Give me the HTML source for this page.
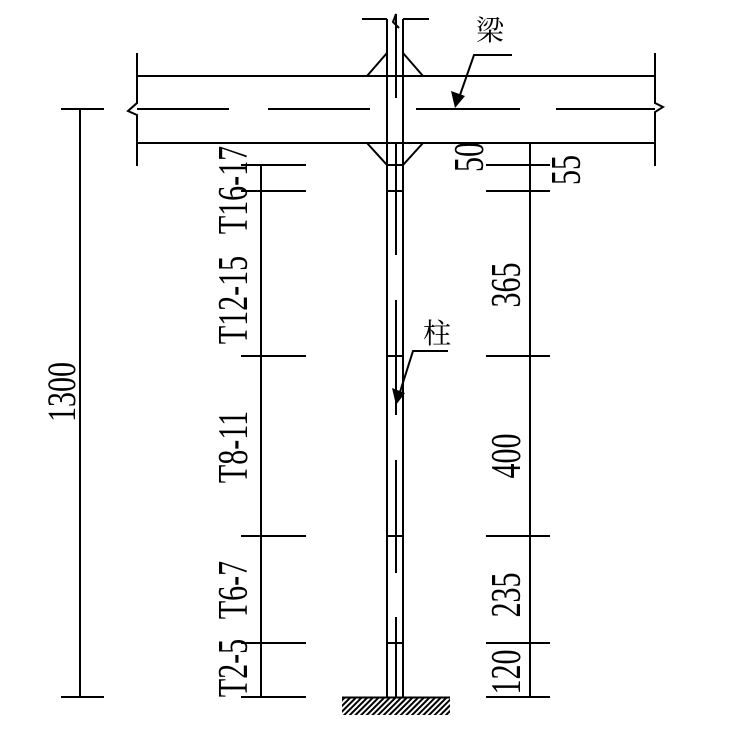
<!DOCTYPE html>
<html><head><meta charset="utf-8"><style>
html,body{margin:0;padding:0;background:#fff}
text{font-family:"Liberation Serif","Times New Roman","Noto Serif CJK SC",serif;fill:#000}
</style></head><body>
<svg width="741" height="750" viewBox="0 0 741 750" xmlns="http://www.w3.org/2000/svg">
<defs>
<pattern id="h" width="4" height="4" patternUnits="userSpaceOnUse" patternTransform="rotate(45)">
<line x1="1" y1="0" x2="1" y2="4" stroke="#000" stroke-width="2"/>
</pattern>
</defs>
<g stroke="#000" stroke-width="2" fill="none">
<line x1="137" y1="76" x2="655" y2="76"/>
<line x1="137" y1="143" x2="655" y2="143"/>
<polyline points="137,53 137,103 128,111 137,115 137,166"/>
<polyline points="655,53 655,103 663,107 655,112 655,166"/>
<line x1="137" y1="109" x2="229" y2="109"/>
<line x1="268" y1="109" x2="370" y2="109"/>
<line x1="416" y1="109" x2="520" y2="109"/>
<line x1="556" y1="109" x2="655" y2="109"/>
<polyline points="367,76 387,53"/><polyline points="403,53 423,76"/>
<polyline points="367,143 387,165"/><polyline points="403,165 423,143"/>
<line x1="387" y1="19" x2="387" y2="697"/>
<line x1="403" y1="19" x2="403" y2="697"/>
<line x1="362" y1="19" x2="387" y2="19"/>
<line x1="403" y1="19" x2="429" y2="19"/>
<polyline points="396,98 396,14 393,22 399,28"/>
<line x1="396" y1="143" x2="396" y2="255"/>
<line x1="396" y1="300" x2="396" y2="415"/>
<line x1="396" y1="460" x2="396" y2="573"/>
<line x1="396" y1="617" x2="396" y2="697"/>
<line x1="387" y1="165" x2="403" y2="165"/>
<line x1="387" y1="191" x2="403" y2="191"/>
<line x1="387" y1="356" x2="403" y2="356"/>
<line x1="387" y1="536" x2="403" y2="536"/>
<line x1="387" y1="643" x2="403" y2="643"/>
<line x1="80" y1="109" x2="80" y2="697"/>
<line x1="61" y1="109" x2="104" y2="109"/>
<line x1="61" y1="697" x2="104" y2="697"/>
<line x1="261" y1="165" x2="261" y2="697"/>
<line x1="241" y1="165" x2="306" y2="165"/>
<line x1="241" y1="191" x2="306" y2="191"/>
<line x1="241" y1="356" x2="306" y2="356"/>
<line x1="241" y1="536" x2="306" y2="536"/>
<line x1="241" y1="643" x2="306" y2="643"/>
<line x1="241" y1="697" x2="306" y2="697"/>
<line x1="530" y1="143" x2="530" y2="697"/>
<line x1="486" y1="165" x2="550" y2="165"/>
<line x1="486" y1="191" x2="550" y2="191"/>
<line x1="486" y1="356" x2="550" y2="356"/>
<line x1="486" y1="536" x2="550" y2="536"/>
<line x1="486" y1="643" x2="550" y2="643"/>
<line x1="486" y1="697" x2="550" y2="697"/>
<polyline points="512,55 474,55 460,95"/>
<polyline points="448,351 413,351 400,392"/>
</g>
<polygon points="455,108 451,91 465,96" fill="#000"/>
<polygon points="396,405 392,388 405,393" fill="#000"/>
<rect x="342" y="697" width="108" height="18" fill="url(#h)"/>
<line x1="342" y1="697.5" x2="450" y2="697.5" stroke="#000" stroke-width="2"/>
<g font-size="30">
<text transform="translate(75,392) rotate(-90) scale(1,1.35)" text-anchor="middle">1300</text>
<text transform="translate(247,190) rotate(-90) scale(1,1.4)" text-anchor="middle">T16-17</text>
<text transform="translate(247,300) rotate(-90) scale(1,1.4)" text-anchor="middle">T12-15</text>
<text transform="translate(247,447) rotate(-90) scale(1,1.4)" text-anchor="middle">T8-11</text>
<text transform="translate(247,590) rotate(-90) scale(1,1.4)" text-anchor="middle">T6-7</text>
<text transform="translate(247,668) rotate(-90) scale(1,1.4)" text-anchor="middle">T2-5</text>
<text transform="translate(483,157) rotate(-90) scale(1,1.4)" text-anchor="middle">50</text>
<text transform="translate(580,170) rotate(-90) scale(1,1.4)" text-anchor="middle">55</text>
<text transform="translate(520,285) rotate(-90) scale(1,1.4)" text-anchor="middle">365</text>
<text transform="translate(520,456) rotate(-90) scale(1,1.4)" text-anchor="middle">400</text>
<text transform="translate(520,595) rotate(-90) scale(1,1.4)" text-anchor="middle">235</text>
<text transform="translate(520,672) rotate(-90) scale(1,1.4)" text-anchor="middle">120</text>
</g>
<text x="490" y="40" font-size="28" text-anchor="middle">梁</text>
<text x="437" y="343" font-size="28" text-anchor="middle">柱</text>
</svg>
</body></html>
